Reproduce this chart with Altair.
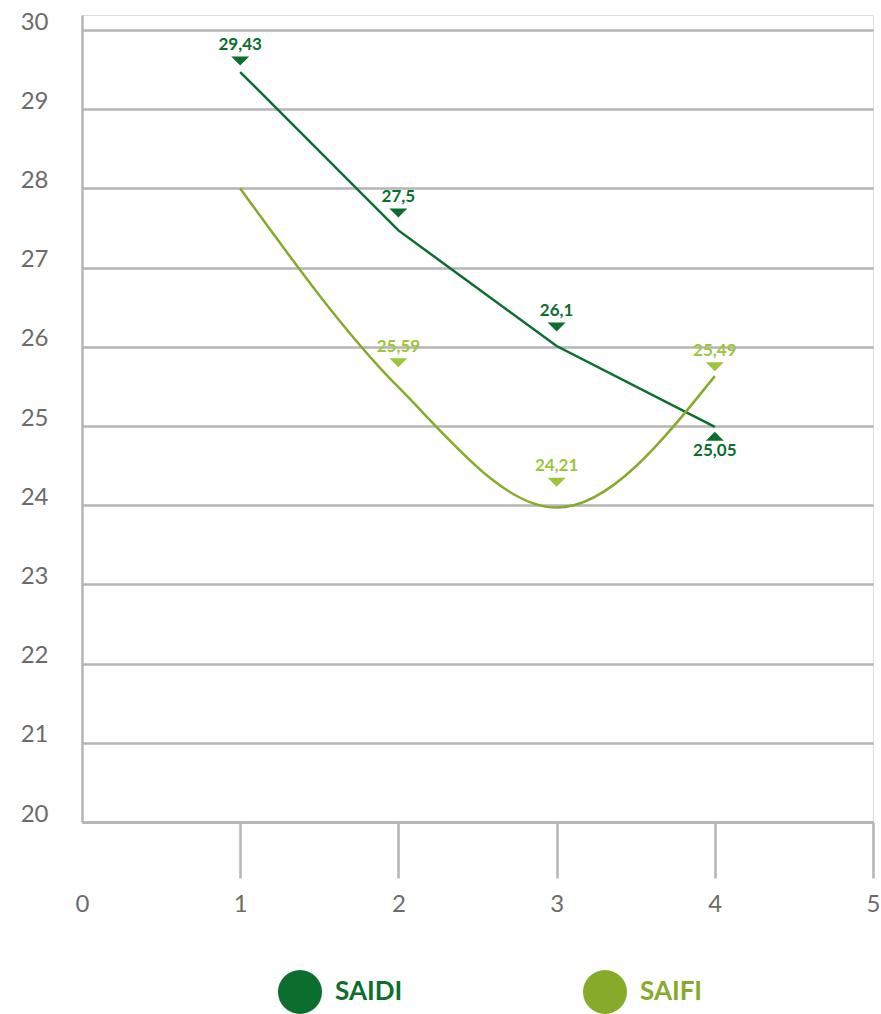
import altair as alt
import pandas as pd

# ---- data ----
x_vals = [1, 2, 3, 4]
saidi_line = [29.47, 27.47, 26.01, 24.99]
saifi_line = [28.00, 25.49, 23.97, 25.63]

saidi_label_x = [1, 2, 3, 4]
saidi_labels = ["29,43", "27,5", "26,1", "25,05"]
saidi_marker = [29.61, 27.69, 26.25, 24.87]
saidi_dir = ["down", "down", "down", "up"]

saifi_label_x = [2, 3, 4]
saifi_labels = ["25,59", "24,21", "25,49"]
saifi_marker = [25.80, 24.29, 25.75]
saifi_dir = ["down", "down", "down"]

series = ["SAIDI", "SAIFI"]
line_colors = ["#0b6e2e", "#86ab2a"]
label_colors = {"SAIDI": "#0b6e2e", "SAIFI": "#9dc43b"}

x_ticks = [0, 1, 2, 3, 4, 5]
y_ticks = [20, 21, 22, 23, 24, 25, 26, 27, 28, 29, 30]

# ---- tables ----
line_df = pd.DataFrame(
    {"x": x_vals * 2,
     "value": saidi_line + saifi_line,
     "series": ["SAIDI"] * 4 + ["SAIFI"] * 4}
)
mark_df = pd.DataFrame(
    {"x": saidi_label_x + saifi_label_x,
     "marker": saidi_marker + saifi_marker,
     "label": saidi_labels + saifi_labels,
     "dir": saidi_dir + saifi_dir,
     "series": ["SAIDI"] * 4 + ["SAIFI"] * 3}
)
mark_df["mcolor"] = mark_df["series"].map(label_colors)

GRID = "#b5b5b5"
TXT = "#6b6b6b"

x_scale = alt.Scale(domain=[0, 5], nice=False, zero=False)
y_scale = alt.Scale(domain=[20, 30.19], nice=False, zero=False)

x_axis = alt.Axis(
    values=x_ticks, title=None, grid=False, format="d", labelFlush=False,
    domainColor=GRID, domainWidth=2.5,
    tickColor={"expr": "datum.value == 0 ? 'transparent' : '%s'" % GRID},
    tickWidth=2.5, tickSize=56,
    labelFont="Lato", labelFontSize=24, labelColor=TXT, labelPadding=14,
)
y_axis = alt.Axis(
    values=y_ticks, title=None, grid=True, gridColor=GRID, gridWidth=2.5,
    format="d", labelFlush=False,
    domainColor=GRID, domainWidth=2.5, ticks=False,
    labelFont="Lato", labelFontSize=24, labelColor=TXT, labelPadding=34,
    labelOffset=-8,
)

col_expr = "datum.value == 'SAIDI' ? '%s' : '%s'" % (line_colors[0], line_colors[1])
color_scale = alt.Scale(domain=series, range=line_colors)
legend = alt.Legend(
    title=None, orient="none", legendX=196, legendY=955,
    direction="horizontal", symbolType="circle", symbolSize=1936,
    symbolStrokeWidth=0, symbolOpacity=1, padding=0,
    symbolFillColor={"expr": col_expr},
    labelColor={"expr": col_expr},
    labelFont="Lato", labelFontSize=26, labelFontWeight="bold",
    labelOffset=13, columnPadding=180,
)

base = alt.Chart(line_df)
saidi = base.transform_filter(alt.datum.series == "SAIDI").mark_line(
    strokeWidth=2.5, interpolate="linear"
).encode(
    x=alt.X("x:Q", scale=x_scale, axis=x_axis),
    y=alt.Y("value:Q", scale=y_scale, axis=y_axis),
    color=alt.Color("series:N", scale=color_scale, legend=legend),
)
saifi = base.transform_filter(alt.datum.series == "SAIFI").mark_line(
    strokeWidth=2.5, interpolate="monotone"
).encode(
    x=alt.X("x:Q", scale=x_scale),
    y=alt.Y("value:Q", scale=y_scale),
    color=alt.Color("series:N", scale=color_scale, legend=legend),
)

DOWN = "M-1,-0.5L1,-0.5L0,0.5Z"
UP = "M-1,0.5L1,0.5L0,-0.5Z"

mbase = alt.Chart(mark_df)
tri_down = mbase.transform_filter(alt.datum.dir == "down").mark_point(
    shape=DOWN, filled=True, size=324, opacity=1, strokeWidth=0
).encode(
    x=alt.X("x:Q", scale=x_scale),
    y=alt.Y("marker:Q", scale=y_scale),
    fill=alt.Fill("mcolor:N", scale=None),
)
tri_up = mbase.transform_filter(alt.datum.dir == "up").mark_point(
    shape=UP, filled=True, size=324, opacity=1, strokeWidth=0
).encode(
    x=alt.X("x:Q", scale=x_scale),
    y=alt.Y("marker:Q", scale=y_scale),
    fill=alt.Fill("mcolor:N", scale=None),
)
txt_down = mbase.transform_filter(alt.datum.dir == "down").mark_text(
    dy=-16, font="Lato", fontSize=17, fontWeight="bold", baseline="middle"
).encode(
    x=alt.X("x:Q", scale=x_scale),
    y=alt.Y("marker:Q", scale=y_scale),
    text="label:N",
    fill=alt.Fill("mcolor:N", scale=None),
)
txt_up = mbase.transform_filter(alt.datum.dir == "up").mark_text(
    dy=15, font="Lato", fontSize=17, fontWeight="bold", baseline="middle"
).encode(
    x=alt.X("x:Q", scale=x_scale),
    y=alt.Y("marker:Q", scale=y_scale),
    text="label:N",
    fill=alt.Fill("mcolor:N", scale=None),
)

chart = alt.layer(saidi, saifi, tri_down, tri_up, txt_down, txt_up).properties(
    width=791, height=807,
    autosize=alt.AutoSizeParams(type="none"),
    padding={"left": 82, "top": 15, "right": 8, "bottom": 200},
).configure_view(stroke=None).configure(background="white")

chart.save("out.html", embed_options={"renderer": "svg", "actions": False})
